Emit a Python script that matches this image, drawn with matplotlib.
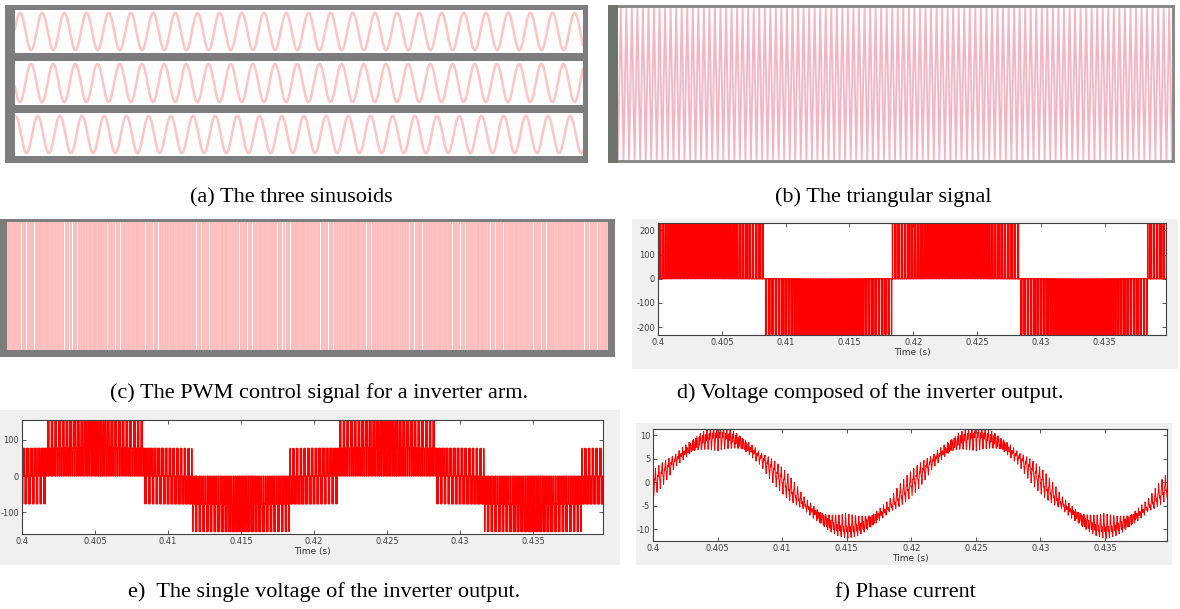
import numpy as np
import matplotlib.pyplot as plt

# values
t_start, t_end = 0.4, 0.4398
fundamental_hz = 50
carrier_hz = 3900
dc_bus = 230            # line voltage swings to about +-230 V
mod_index = 0.9
current_peak = 9.6      # A
load_l = 0.0013         # H, sets the ripple on the phase current

sine_cycles = 25.6
sine_phase_deg = [9, -169, 82]
triangle_cycles = 100
pwm_cycles = 230
pwm_mod_cycles = 7

time_ticks = [0.4, 0.405, 0.41, 0.415, 0.42, 0.425, 0.43, 0.435]
time_labels = ['0.4', '0.405', '0.41', '0.415', '0.42', '0.425', '0.43', '0.435']
line_v_ticks = [-200, -100, 0, 100, 200]
phase_v_ticks = [-100, 0, 100]
current_ticks = [-10, -5, 0, 5, 10]

captions = ['(a) The three sinusoids',
            '(b) The triangular signal',
            '(c) The PWM control signal for a inverter arm.',
            'd) Voltage composed of the inverter output.',
            'e)  The single voltage of the inverter output.',
            'f) Phase current']
caption_pos = [(190, 202), (775, 202), (110, 398), (677, 398), (128, 597), (835, 597)]

W, H = 1180, 609
fig = plt.figure(figsize=(W / 100, H / 100), dpi=100)


def box(x0, y0, x1, y1, color=None, z=0):
    ax = fig.add_axes([x0 / W, 1 - y1 / H, (x1 - x0) / W, (y1 - y0) / H], zorder=z)
    if color:
        ax.set_facecolor(color)
    ax.set_xticks([])
    ax.set_yticks([])
    for s in ax.spines.values():
        s.set_visible(False)
    return ax


def matlab_axes(ax, yticks, ylim):
    ax.set_xlim(t_start, t_end)
    ax.set_ylim(*ylim)
    ax.set_xticks(time_ticks)
    ax.set_xticklabels(time_labels)
    ax.set_yticks(yticks)
    ax.set_yticklabels([str(v) for v in yticks])
    ax.tick_params(direction='in', length=3, width=0.6, top=True, right=True,
                   labelsize=6, pad=2, colors='#404040')
    for s in ax.spines.values():
        s.set_visible(True)
        s.set_color('#404040')
        s.set_linewidth(0.8)
    ax.set_xlabel('Time (s)', fontsize=6.5, labelpad=1, color='#303030')


# ---- inverter simulation (sine-triangle PWM) ----
dt = 5e-7
t = np.arange(0.38, t_end + dt, dt)
w = 2 * np.pi * fundamental_hz
carrier = 2 * np.abs(2 * ((t * carrier_hz) % 1) - 1) - 1
ref = [mod_index * np.sin(w * (t - t_start) + k * 2 * np.pi / 3) for k in (0, -1, 1)]
sw = [(r > carrier).astype(float) for r in ref]
v_ab = dc_bus * (sw[0] - sw[1])
v_an = dc_bus / 3 * (2 * sw[0] - sw[1] - sw[2])
z = mod_index * dc_bus / 2 / current_peak
load_r = np.sqrt(z ** 2 - (w * load_l) ** 2)
i_a = np.zeros_like(t)
for k in range(len(t) - 1):
    i_a[k + 1] = i_a[k] + dt * (v_an[k] - load_r * i_a[k]) / load_l
keep = t >= t_start

# ---- (a) three sinusoids ----
box(5, 5, 588, 163, '#7d7d7d', 0)
strips = [(10, 53), (61, 105), (113, 156)]
x = np.linspace(0, sine_cycles, 3000)
for (y0, y1), ph in zip(strips, sine_phase_deg):
    ax = box(15, y0, 583, y1, 'white', 1)
    ax.plot(x, np.sin(2 * np.pi * x + np.radians(ph)), color='#ffc4c4', lw=1.8)
    ax.set_xlim(0, sine_cycles)
    ax.set_ylim(-1.15, 1.15)

# ---- (b) triangular signal ----
box(608, 5, 1175, 163, '#8a8a8a', 0)
box(608, 5, 618, 163, '#6c746e', 1)
ax = box(618, 8, 1172, 160, 'white', 1)
tri_x = np.arange(2 * triangle_cycles + 1) / 2
tri_y = np.where(np.arange(2 * triangle_cycles + 1) % 2 == 0, -1, 1)
ax.plot(tri_x, tri_y, color='#f6b4c0', lw=1.3)
ax.set_xlim(0, triangle_cycles)
ax.set_ylim(-1, 1)

# ---- (c) PWM control signal ----
box(0, 219, 615, 357, '#7d7d7d', 0)
ax = box(7, 222, 608, 350, 'white', 1)
u = np.linspace(0, 1, 400000)
c_car = 2 * np.abs(2 * ((u * pwm_cycles) % 1) - 1) - 1
c_ref = 0.9 * np.sin(2 * np.pi * pwm_mod_cycles * u)
edges = u[np.nonzero(np.diff(np.sign(c_ref - c_car)))[0]]
ax.vlines(edges, 0, 1, color='#ffbcbc', lw=1.3)
ax.set_xlim(0, 1)
ax.set_ylim(0, 1)

# ---- (d) line voltage ----
box(632, 219, 1178, 369, '#f0f0f0', 0)
ax = box(658, 223, 1166, 335, 'white', 1)
ax.plot(t[keep], v_ab[keep], color='red', lw=0.9)
matlab_axes(ax, line_v_ticks, (-232, 230))

# ---- (e) phase voltage ----
box(0, 410, 620, 565, '#f0f0f0', 0)
ax = box(22, 420, 603, 534, 'white', 1)
ax.plot(t[keep], v_an[keep], color='red', lw=0.9)
matlab_axes(ax, phase_v_ticks, (-160, 155))

# ---- (f) phase current ----
box(636, 423, 1172, 565, '#f0f0f0', 0)
ax = box(653, 429, 1167, 541, 'white', 1)
ax.plot(t[keep], i_a[keep], color='red', lw=0.7)
matlab_axes(ax, current_ticks, (-12.5, 11.3))

for s, (cx, cy) in zip(captions, caption_pos):
    fig.text(cx / W, 1 - cy / H, s, fontsize=16, family='Liberation Serif',
             ha='left', va='baseline')

fig.savefig('out.png', dpi=100)
